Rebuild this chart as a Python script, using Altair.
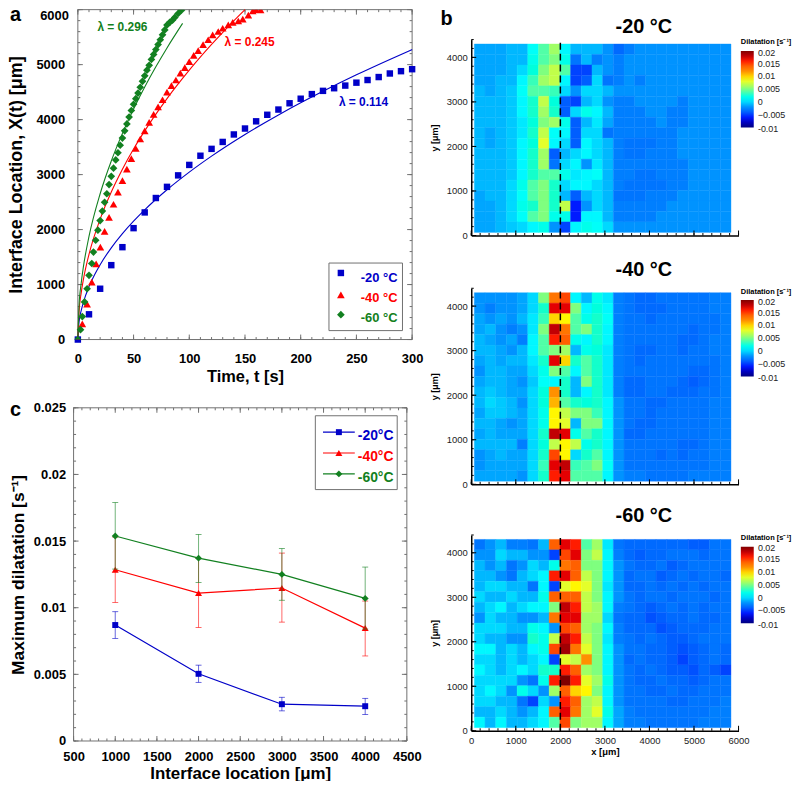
import altair as alt
import pandas as pd

BLUE, RED, GREEN = "#0000c8", "#ff0000", "#128020"
GREY = "#707070"
FONT = "Liberation Sans"

# ---------- panel a ----------
a_blue_t = list(range(0, 301, 10))
a_blue_x = [0,459,924,1353,1680,2026,2312,2574,2777,2986,3176,3343,3468,3594,3730,3838,3969,4088,4183,4297,4380,4464,4523,4571,4619,4672,4720,4774,4839,4881,4917]
a_red_t = [0,4,8.3,12.5,16.4,20.2,24,28,32,36,40,44,48,52,56,60,64,68,72,76,80,84,88,92,96,100,104,108,112.4,117,121,126,130,135,139,144,148,153,157,160,164]
a_red_x = [0,286,644,1043,1377,1680,1967,2223,2461,2682,2890,3099,3290,3474,3647,3796,3951,4094,4231,4362,4499,4619,4720,4845,4946,5054,5167,5256,5364,5453,5542,5602,5662,5722,5769,5793,5828,5900,5976,6000,5995]
a_green_t = [0,2.4,4,6,8.3,10,12.5,14,16,18,20,22,24,26,28,30,32,34,36,38,40,42,44,46,48,50,52,54,56,58,60,62,64,66,68,70,72,74,76,78,80,82.5,85,87,90,93]
a_green_x = [0,180,417,685,924,1168,1383,1591,1806,1990,2163,2336,2497,2652,2819,2968,3117,3266,3397,3534,3665,3796,3922,4046,4166,4279,4380,4482,4589,4696,4797,4899,4988,5095,5185,5274,5364,5453,5542,5632,5721,5769,5810,5858,5930,5990]
curve_blue_t = [0,1,3,5,10,15,20,30,40,50,60,80,100,120,150,180,200,220,250,280,300]
curve_blue_x = [0,305,527,681,963,1179,1362,1668,1926,2153,2359,2724,3045,3336,3730,4085,4306,4516,4815,5095,5274]
curve_red_t = [0,1,3,5,10,20,30,40,50,60,80,100,120,135,150]
curve_red_x = [0,490,849,1096,1550,2191,2684,3099,3465,3795,4382,4899,5367,5693,6000]
curve_green_t = [0,1,3,5,10,20,30,40,50,60,70,80,94]
curve_green_x = [0,593,1027,1326,1875,2652,3248,3750,4193,4593,4961,5304,5750]
a_x_major = [0,50,100,150,200,250,300]
a_x_minor = list(range(0, 301, 10))
a_y_major = [0,1000,2000,3000,4000,5000,6000]
a_y_minor = list(range(0, 6001, 200))

# ---------- panel c ----------
c_x = [1000,2000,3000,4000]
c_blue = [0.0087,0.00504,0.00276,0.00261]
c_blue_hi = [0.0097,0.00569,0.00328,0.0032]
c_blue_lo = [0.0077,0.0044,0.00226,0.00199]
c_red = [0.01285,0.0111,0.01148,0.00847]
c_red_hi = [0.0153,0.0137,0.0141,0.0105]
c_red_lo = [0.0104,0.00852,0.00892,0.00638]
c_green = [0.01538,0.01372,0.0125,0.0107]
c_green_hi = [0.01789,0.0155,0.01444,0.01305]
c_green_lo = [0.0129,0.0119,0.01056,0.0084]
c_x_major = [500,1000,1500,2000,2500,3000,3500,4000,4500]
c_x_minor = list(range(500, 4501, 100))
c_y_major = [0,0.005,0.01,0.015,0.02,0.025]
c_y_minor = [i/1000 for i in range(0, 26)]

# ---------- panel b heat grids, thousandths of 1/s, top row first ----------
x_edges = [70+240*i for i in range(25)]
y_edges = [4300-235*j for j in range(19)]
b1_rows = [
[-1.5,-1.5,-1.5,-1,-1,1.5,4,6,1,-1,-1,-1,-2,-3.5,-2.5,-2,-2,-2,-2,-2,-2,-2,-2,-2],
[-1.5,-1.5,-1.5,-1,-1,2,4,5,2,-3,-1,-2.5,-2,-2.5,-2,-2,-2,-2,-2,-2,-2,-2,-2,-2],
[-1.5,-1.5,-1.5,-1,0,2.5,5,7,4,-5,-5,-1,-2,-2.5,-2,-2,-2,-2,-2,-2,-2,-2,-2,-2],
[-1.5,-1.5,-1,-1,1,3.5,6,7,1,-5,-4,0,-3,-2.5,-2,-2.5,-2,-2,-2,-2,-2,-2,-2,-2],
[-1,-1.5,-1,-0.5,1.5,4,4,3.5,0,-2,0,0,-1,-2,-2,-2,-2,-2,-2,-2,-2,-2,-2,-2],
[-1,-1,-1,-0.5,1,3,7,2.5,-4,-5,-1,0,-2,-2.5,-2.5,-2,-2,-2,-2,-2.5,-2,-2,-2,-2],
[-1,-1,-1,-0.5,1,3,6,3,-4,0,2,1,-1,-2.5,-2.5,-2.5,-2,-2,-2.5,-2.5,-2,-2,-2,-2],
[-1,-1,-1,-0.5,0.5,2.5,5,6,2,-4,-1,0.5,-1.5,-2.5,-2.5,-2.5,-2.5,-2,-2.5,-2.5,-2,-2,-2,-2],
[-1,-1.5,-1,-0.5,0.5,3,7,1.5,1,-4,0,0,-3,-2.5,-2.5,-2.5,-2.5,-2.5,-2.5,-2,-2,-2,-2,-2],
[-1,-1.5,-1,-0.5,1,2.5,8,1,0,-4,1,0,-1,-2.5,-3,-3,-3,-2.5,-2.5,-2,-2,-2,-2,-2],
[-1,-1,-1,-0.5,1,3,6,-4,-1,0,1,0,-1,-2.5,-3,-3,-2.5,-2.5,-2.5,-2,-2,-2,-2,-2],
[-1,-1,-1,-0.5,1,3,6,-3,0,1,-2,0.5,-1,-2.5,-2.5,-2.5,-2.5,-2.5,-2.5,-2.5,-2,-2,-2,-2],
[-1,-1,-1,-0.5,1,3,4,4,2,0.5,1,1.5,-1,-2.5,-2.5,-3,-3,-2.5,-2.5,-2.5,-2,-2,-2,-2],
[-1,-1,-1,0,2,4,5,3,0,1,1,0,-1,-2.5,-3,-3,-3,-3,-2.5,-2.5,-2,-2,-2,-2],
[-1.5,-1,-1,0,1.5,4,5,3,-1,-4,-1,0,-1,-3,-3,-3,-2.5,-2.5,-2.5,-2,-2,-2,-2,-2],
[-1.5,-1.5,-1,0,2,3,5,3,7,-6,-2,0,-1,-2.5,-2.5,-2.5,-2.5,-2.5,-2,-2,-2,-2,-2,-2],
[-1.5,-1.5,-1,0,1.5,4,5,2,2,-6,1,1,-1,-2.5,-2.5,-2.5,-2.5,-2,-2,-2,-2,-2,-2,-2],
[-1.5,-1.5,-1,-0.5,0,1,2,-2,-5,1,2,1.5,0,-2,-2,-2,-2,-2,-2,-2,-2,-2,-2,-2],
]
b2_rows = [
[-2,-2,-2,-2,-1.5,0,5,13,15,1,-1,2,0.5,-2.5,-3,-3.5,-3.5,-3,-3,-3,-3,-3,-2.5,-2.5],
[-2,-2.5,-2,-2,-1.5,0,3,17,17,5,1,2.5,1,-2.5,-3,-3.5,-3.5,-3.5,-3,-3,-3,-3,-2.5,-2.5],
[-1.5,-2,-1.5,-2,-1,0.5,3.5,10,9,4,2,3,1.5,-2.5,-3,-3,-3.5,-3,-3,-3,-3,-3,-3,-2.5],
[-1.5,-1,-2,-2.5,-2,0.5,5,18,13,4,5,3,1,-2.5,-3,-3,-3,-3,-3,-3,-3.5,-3,-3,-2.5],
[-1,-1.5,-2,-1.5,-2.5,1,4,16,14,2,1,3,1,-2.5,-3,-3,-3,-3,-3,-3.5,-3.5,-3,-2.5,-2.5],
[-1,-1,-1.5,-2,-1,1,4,5,6,-1,2,2.5,0.5,-2.5,-3,-3.5,-3.5,-3,-3,-3.5,-3,-3,-2.5,-2.5],
[-1.5,-1,-1.5,-1,-1,0.5,3,17,10,3,4,3,0.5,-2.5,-3,-3.5,-3,-3,-3,-3,-3,-3,-3,-2.5],
[-2,-1,-1,-1.5,-1.5,0,2,5,4,1,4,3,0.5,-2.5,-3,-3,-3,-3,-3,-3,-3.5,-3.5,-3,-2.5],
[-1.5,-1,-1,-1.5,-2,-0.5,1.5,1,3,-1,5,3,0.5,-2.5,-3.5,-3.5,-3,-3,-3,-3.5,-4,-3.5,-3,-2.5],
[-1,-0.5,-1,-1.5,-1.5,0,2.5,12,3,-1,1,3,0.5,-2.5,-3.5,-3.5,-3,-3,-3.5,-3.5,-3.5,-3,-3,-2.5],
[-1,0,-0.5,-1,-2,0,2.5,11,4,3,2.5,3,1,-2,-3,-3,-3.5,-3.5,-3,-3,-3,-3,-2.5,-2.5],
[-1.5,-0.5,-0.5,-1,-1.5,0,2,9,7,5,5,3.5,1,-2,-3,-3,-3.5,-3,-3,-3,-3,-3,-2.5,-2.5],
[-1,-1,-1.5,-2,-1.5,0,2,9,8,-1,5,5,1,-2,-3,-3.5,-3.5,-3,-3,-3,-3,-3,-2.5,-2.5],
[-1.5,-1,-1.5,-1.5,-1.5,0,3,18,17,2,4,3,1,-2,-3.5,-3.5,-3,-3,-3,-3,-3,-3,-2.5,-2.5],
[-1,-1,-1,-1,-2.5,0,2.5,7,9,7,2,3,1,-2,-3,-3,-3,-3,-3,-3.5,-3.5,-3,-2.5,-2.5],
[-2,-1.5,-1,-1.5,-1.5,0,3,15,9,0,3,4,1,-2,-3,-3,-3,-3.5,-3,-3.5,-3,-3,-2.5,-2.5],
[-2,-1.5,-1.5,-1.5,-1.5,0,3.5,17,18,3.5,4,5,1.5,-2,-3,-3,-3,-3,-3,-3,-3,-3,-2.5,-2.5],
[-1.5,-1.5,-1.5,-1.5,-2,0,3,16,17,4,4,4,1,-2,-2.5,-2.5,-3,-3,-3,-3,-2.5,-2.5,-2.5,-2.5],
]
b3_rows = [
[-3,-2,-1,-2.5,-2.5,-3,-1,14,17,16,4,6,0.5,-3,-3.5,-3.5,-3.5,-3.5,-3.5,-3.5,-4,-4,-3,-3],
[-2,-2,0,-1,-1,-2,-2,-5,15,17,5,7,1,-2.5,-3.5,-4,-3.5,-3.5,-3,-3,-3,-3.5,-3,-3],
[-1,-2,-1,-3,-2,0,-1,2,13,14,5,5,1,-2,-3,-3.5,-3.5,-3,-4,-3.5,-3,-3,-3,-3],
[-1,-1,-2,-3,-1,0,1,16,17,14,7,5,1,-2,-3.5,-3,-3,-4,-3.5,-3,-3.5,-3,-3,-3.5],
[-1,0,0,-1,-1,-3,1,-5,8,9,8,5,0.5,-2,-3.5,-3.5,-3,-3.5,-3,-3.5,-3,-3.5,-3,-3],
[0,-1,-1,0,-1,-1,2,14,14,14,7,5,1,-2,-3,-3.5,-3,-3,-3.5,-3,-3,-3,-3.5,-3],
[-1,0,1,-1,0,1,1,5,18,16,7,6,1,-2.5,-3,-3.5,-4,-3.5,-3,-3.5,-3,-3.5,-3,-3],
[-2,0,-1,-1,-2,-2,-1,13,17,17,6,6,0,-3,-3.5,-3.5,-4.5,-4,-3.5,-3.5,-3,-3.5,-3.5,-3],
[0,0,0,-1,-1,2,1,-2,15,14,6,5,1,-2.5,-3.5,-3.5,-3.5,-4.5,-4,-3.5,-3.5,-3.5,-3,-3],
[0,-1,-1,-2,-2,3,2,7,18,16,7,5,0.5,-2.5,-3,-3.5,-3,-3.5,-4,-4,-3.5,-3,-3,-3],
[1,1,-1,0,-1,1,2,15,19,13,8,5,1,-2,-3,-3,-3.5,-3.5,-4,-4.5,-4,-3.5,-3,-3.5],
[0,0,-1,0,-1,0,1,-5,8,7,12,5,1,-2,-3.5,-3,-3.5,-3.5,-4,-5,-4,-3.5,-3,-3.5],
[1,0,-1,0,1,0,3,3,16,14,6,5,1,-2,-3,-3.5,-3,-3.5,-4,-4,-4.5,-3.5,-4,-5],
[0,0,0,0,-2,-3,2,16,20,16,8,6,2,-2,-3,-3.5,-3.5,-3,-3.5,-3.5,-4,-3.5,-3,-3],
[0,1,0,-2,2,0,-2,6,14,10,9,5,1,-2,-3,-3,-3.5,-3.5,-3,-3.5,-3.5,-3,-3,-3],
[0,0,-1,-1,-3,-5,0,-2,16,14,6,7,1,-2,-3,-3,-3,-3,-3.5,-3.5,-3,-3,-3,-2.5],
[-1,-1,0,-1,-2,-1,1,14,17,13,6,8,2,-1.5,-2.5,-3,-3,-3,-3,-3,-3,-3,-2.5,-2.5],
[1,-1,1,-1,-1,0,1,4,15,5,6,6,1,-1.5,-2.5,-2.5,-3,-3,-3,-3,-3,-2.5,-2.5,-2.5],
]
b_x_major = [0,1000,2000,3000,4000,5000,6000]
b_x_minor = list(range(0, 6001, 200))
b_y_major = [0,1000,2000,3000,4000]
b_y_minor = list(range(0, 4401, 200))
legend_values = [0.015,0.01,0.005,0,-0.005]
JET = ["#00007f","#0000ff","#007fff","#00ffff","#7fff7f","#ffff00","#ff7f00","#ff0000","#7f0000"]

AX = {}


def X(f, s):
    return alt.X(f, scale=s, axis=AX[id(s)])


def Y(f, s):
    return alt.Y(f, scale=s, axis=AX[id(s)])


def note(txt, x, y, color="black", size=12, bold=True, align="left", baseline="middle"):
    return alt.Chart(pd.DataFrame({"t": [txt]})).mark_text(
        color=color, fontSize=size, fontWeight="bold" if bold else "normal",
        align=align, baseline=baseline, font=FONT
    ).encode(text="t:N", x=alt.value(x), y=alt.value(y))


def box(x1, x2, y1, y2):
    return alt.Chart(pd.DataFrame({"a": [0]})).mark_rect(
        fill="white", stroke=GREY, strokeWidth=1
    ).encode(x=alt.value(x1), x2=alt.value(x2), y=alt.value(y1), y2=alt.value(y2))


def vticks(vals, xs, y1, y2, color=GREY, w=1):
    return alt.Chart(pd.DataFrame({"v": vals})).mark_rule(color=color, strokeWidth=w).encode(
        x=X("v:Q", xs), y=alt.value(y1), y2=alt.value(y2))


def hticks(vals, ys, x1, x2, color=GREY, w=1):
    return alt.Chart(pd.DataFrame({"v": vals})).mark_rule(color=color, strokeWidth=w).encode(
        y=Y("v:Q", ys), x=alt.value(x1), x2=alt.value(x2))


def frame(xs, ys, xmaj, xmin, ymaj, ymin, left, right, top, bottom):
    out = []
    for vals, ln in ((xmin, 2.5), (xmaj, 5)):
        out.append(vticks(vals, xs, bottom, bottom-ln))
        out.append(vticks(vals, xs, top, top+ln))
    for vals, ln in ((ymin, 2.5), (ymaj, 5)):
        out.append(hticks(vals, ys, left, left+ln))
        out.append(hticks(vals, ys, right, right-ln))
    rect = alt.Chart(pd.DataFrame({"x1": [xmaj[0]], "x2": [xmaj[-1]], "y1": [ymaj[0]], "y2": [ymaj[-1]]})).mark_rect(
        fill=None, stroke=GREY, strokeWidth=1
    ).encode(x=X("x1:Q", xs), x2="x2:Q", y=Y("y1:Q", ys), y2="y2:Q")
    return out + [rect]


# ---- panel a chart
W = 341
A_H = 332
xa = alt.Scale(domain=[0, 300], range=[4.3, 340.7], nice=False)
ya = alt.Scale(domain=[0, 6000], range=[A_H, 0], nice=False)
AX[id(xa)] = alt.Axis(values=a_x_major, title="Time, t [s]", format="d", domain=False, ticks=False, grid=False, labelFlush=False,
                labelFont=FONT, labelFontWeight="bold", labelFontSize=13, labelPadding=13, labelColor="black", labelAngle=0,
                titleFont=FONT, titleFontWeight="bold", titleFontSize=16.5, titlePadding=3, titleColor="black", labelOverlap=False)
AX[id(ya)] = alt.Axis(values=a_y_major, title="Interface Location, X(t) [\u03bcm]", format="d", domain=False, ticks=False, grid=False, labelFlush=False,
                labelExpr="datum.value==6000?'':datum.label",
                labelFont=FONT, labelFontWeight="bold", labelFontSize=13, labelPadding=9, labelColor="black",
                titleFont=FONT, titleFontWeight="bold", titleFontSize=18, titlePadding=10, titleColor="black", labelOverlap=False)


def curve(t, v, color):
    return alt.Chart(pd.DataFrame({"t": t, "v": v})).mark_line(color=color, strokeWidth=1.1, interpolate="monotone").encode(
        x=X("t:Q", xa), y=Y("v:Q", ya))


def pts_a(t, v, color, shape, size, clip):
    return alt.Chart(pd.DataFrame({"t": t, "v": v})).mark_point(
        color=color, fill=color, filled=True, shape=shape, size=size, opacity=1, clip=clip
    ).encode(x=X("t:Q", xa), y=Y("v:Q", ya))


a_layers = frame(xa, ya, a_x_major, a_x_minor, a_y_major, a_y_minor, 4.3, 340.7, 0, A_H) + [
    curve(curve_blue_t, curve_blue_x, BLUE), curve(curve_red_t, curve_red_x, RED), curve(curve_green_t, curve_green_x, GREEN),
    pts_a(a_blue_t, a_blue_x, BLUE, "square", 42, False),
    pts_a(a_red_t, a_red_x, RED, "triangle-up", 60, True),
    pts_a(a_green_t, a_green_x, GREEN, "diamond", 60, True),
    note("6000", -4.7, 0, size=13, align="right", baseline="top"),
    note("a", -64, 5, size=20),
    note("\u03bb = 0.296", 24, 17, GREEN), note("\u03bb = 0.245", 152, 33, RED), note("\u03bb = 0.114", 267, 93, BLUE),
    box(257, 331, 255, 323),
]
for label, color, shape, size, ypt, ytx in (("-20 \u00b0C", BLUE, "square", 42, 265, 270), ("-40 \u00b0C", RED, "triangle-up", 60, 287, 290), ("-60 \u00b0C", GREEN, "diamond", 60, 307, 310)):
    a_layers.append(alt.Chart(pd.DataFrame({"a": [0]})).mark_point(color=color, fill=color, filled=True, shape=shape, size=size, opacity=1).encode(x=alt.value(269), y=alt.value(ypt)))
    a_layers.append(note(label, 289, ytx, color, 13))
panel_a = alt.layer(*a_layers).properties(width=W, height=A_H)

# ---- panel c chart
C_H = 335.3
xc = alt.Scale(domain=[500, 4500], range=[0, 335.4], nice=False)
yc = alt.Scale(domain=[0, 0.025], range=[C_H, 0], nice=False)
AX[id(xc)] = alt.Axis(values=c_x_major, title="Interface location [\u03bcm]", format="d", domain=False, ticks=False, grid=False, labelFlush=False,
                labelFont=FONT, labelFontWeight="bold", labelFontSize=13, labelPadding=10, labelColor="black", labelAngle=0,
                titleFont=FONT, titleFontWeight="bold", titleFontSize=17, titlePadding=2, titleColor="black", labelOverlap=False)
AX[id(yc)] = alt.Axis(values=c_y_major, title="Maximum dilatation [s\u207b\u00b9]", format="~g", domain=False, ticks=False, grid=False, labelFlush=False,
                labelFont=FONT, labelFontWeight="bold", labelFontSize=13, labelPadding=8, labelColor="black",
                titleFont=FONT, titleFontWeight="bold", titleFontSize=17.5, titlePadding=5.8, titleColor="black", labelOverlap=False)
c_layers = frame(xc, yc, c_x_major, c_x_minor, c_y_major, c_y_minor, 0, 335.4, 0, C_H)
for vals, hi, lo, color, shape, size in ((c_blue, c_blue_hi, c_blue_lo, BLUE, "square", 36), (c_red, c_red_hi, c_red_lo, RED, "triangle-up", 49), (c_green, c_green_hi, c_green_lo, GREEN, "diamond", 49)):
    df = pd.DataFrame({"x": c_x, "v": vals, "hi": hi, "lo": lo})
    c_layers.append(alt.Chart(df).mark_rule(color=color, strokeWidth=0.8, opacity=0.75).encode(
        x=X("x:Q", xc), y=Y("hi:Q", yc), y2="lo:Q"))
    for f in ("hi", "lo"):
        c_layers.append(alt.Chart(df).mark_tick(color=color, orient="horizontal", size=6, thickness=0.8, opacity=0.75).encode(
            x=X("x:Q", xc), y=Y(f"{f}:Q", yc)))
    c_layers.append(alt.Chart(df).mark_line(color=color, strokeWidth=1.2).encode(
        x=X("x:Q", xc), y=Y("v:Q", yc)))
    c_layers.append(alt.Chart(df).mark_point(color=color, fill=color, filled=True, shape=shape, size=size, opacity=1).encode(
        x=X("x:Q", xc), y=Y("v:Q", yc)))
c_layers += [note("c", -64, 2, size=20), box(243.3, 325.7, 8, 82.3)]
for label, color, shape, size, yrow in (("-20\u00b0C", BLUE, "square", 36, 24.5), ("-40\u00b0C", RED, "triangle-up", 49, 45.5), ("-60\u00b0C", GREEN, "diamond", 49, 66.5)):
    c_layers.append(alt.Chart(pd.DataFrame({"a": [0]})).mark_rule(color=color, strokeWidth=1.2).encode(x=alt.value(251), x2=alt.value(283), y=alt.value(yrow)))
    c_layers.append(alt.Chart(pd.DataFrame({"a": [0]})).mark_point(color=color, fill=color, filled=True, shape=shape, size=size, opacity=1).encode(x=alt.value(267), y=alt.value(yrow)))
    c_layers.append(note(label, 286, yrow+4, color, 14))
panel_c = alt.layer(*c_layers).properties(width=W, height=C_H)


# ---- panel b charts
def heat(rows, title, height, top, title_y, legend_y, lab_top, lab_bot, letter=False, show_x=False):
    recs = []
    for j, row in enumerate(rows):
        for i, v in enumerate(row):
            recs.append({"x0": x_edges[i], "x1": x_edges[i+1], "y0": y_edges[j+1], "y1": y_edges[j], "v": v/1000})
    df = pd.DataFrame(recs)
    xs = alt.Scale(domain=[0, 6000], range=[0, 269], nice=False)
    ys = alt.Scale(domain=[0, 4400], range=[height, top], nice=False)
    cs = alt.Scale(domain=[-0.01, 0.02], range=JET)
    AX[id(xs)] = alt.Axis(values=b_x_major, format="d", domain=True, domainColor="black", domainWidth=1.5, ticks=False, grid=False, labelFlush=False,
                   labels=show_x, labelFont=FONT, labelFontSize=9.5, labelColor="#222", labelPadding=5, labelAngle=0, labelOverlap=False,
                   title="x [\u03bcm]" if show_x else "", titleFont=FONT, titleFontSize=9.5, titleFontWeight="bold", titleColor="black", titlePadding=1)
    AX[id(ys)] = alt.Axis(values=b_y_major, format="d", domain=True, domainColor="black", domainWidth=1.5, ticks=False, grid=False, labelFlush=False,
                   labelFont=FONT, labelFontSize=9.5, labelColor="#222", labelPadding=4, labelOverlap=False,
                   title="y [\u03bcm]", titleFont=FONT, titleFontSize=9, titleFontWeight="bold", titleColor="black", titlePadding=7)
    leg = alt.Legend(orient="none", legendX=271.3, legendY=legend_y, title="Dilatation [s\u207b\u00b9]", titleFont=FONT, titleFontSize=7.5,
                     titleFontWeight="bold", titleColor="black", titlePadding=5, gradientLength=77, gradientThickness=13,
                     values=legend_values, format="~g", labelFont=FONT, labelFontSize=9, labelColor="#222", labelOffset=4, gradientStrokeWidth=0,
                     labelOverlap=False)
    rects = alt.Chart(df).mark_rect(strokeWidth=0.4).encode(
        x=X("x0:Q", xs), x2="x1:Q",
        y=Y("y0:Q", ys), y2="y1:Q",
        color=alt.Color("v:Q", scale=cs, legend=leg),
        stroke=alt.Color("v:Q", scale=cs, legend=None))
    dash = alt.Chart(pd.DataFrame({"x": [2000]})).mark_rule(color="black", strokeWidth=1.5, strokeDash=[7, 4]).encode(
        x=X("x:Q", xs), y=alt.value(height), y2=alt.value(top))
    layers = [rects,
              vticks(b_x_minor, xs, height, height-2.5, "black"),
              vticks(b_x_major, xs, height, height-5, "black"),
              hticks(b_y_minor, ys, 0, 2.5, "black"),
              hticks(b_y_major, ys, 0, 5, "black"),
              dash,
              note(title, 145.3, title_y, size=20),
              note("0.02", 288.5, lab_top, "#222", 9, False),
              note("-0.01", 288.5, lab_bot, "#222", 9, False)]
    if letter:
        layers.append(note("b", -31, 9, size=20))
    return alt.layer(*layers).resolve_scale(color="shared").properties(width=269, height=height)


b1 = heat(b1_rows, "-20 \u00b0C", 227.3, 30.1, 17, 29, 43.7, 120.3, letter=True)
b2 = heat(b2_rows, "-40 \u00b0C", 199.7, 2.4, -16, 1.7, 16, 92.7)
b3 = heat(b3_rows, "-60 \u00b0C", 197.7, 0.7, -18.3, 0, 14.3, 91.3, show_x=True)

left = alt.vconcat(panel_a, panel_c, spacing=68.7, bounds="flush")
right = alt.vconcat(b1, b2, b3, spacing=50, bounds="flush").resolve_scale(color="independent")
chart = alt.hconcat(left, right, spacing=6.2).properties(padding={"left": 0, "right": 0, "bottom": -3, "top": -6.8}).configure_view(strokeWidth=0)

chart.save("out.html", embed_options={"renderer": "svg", "actions": False})
